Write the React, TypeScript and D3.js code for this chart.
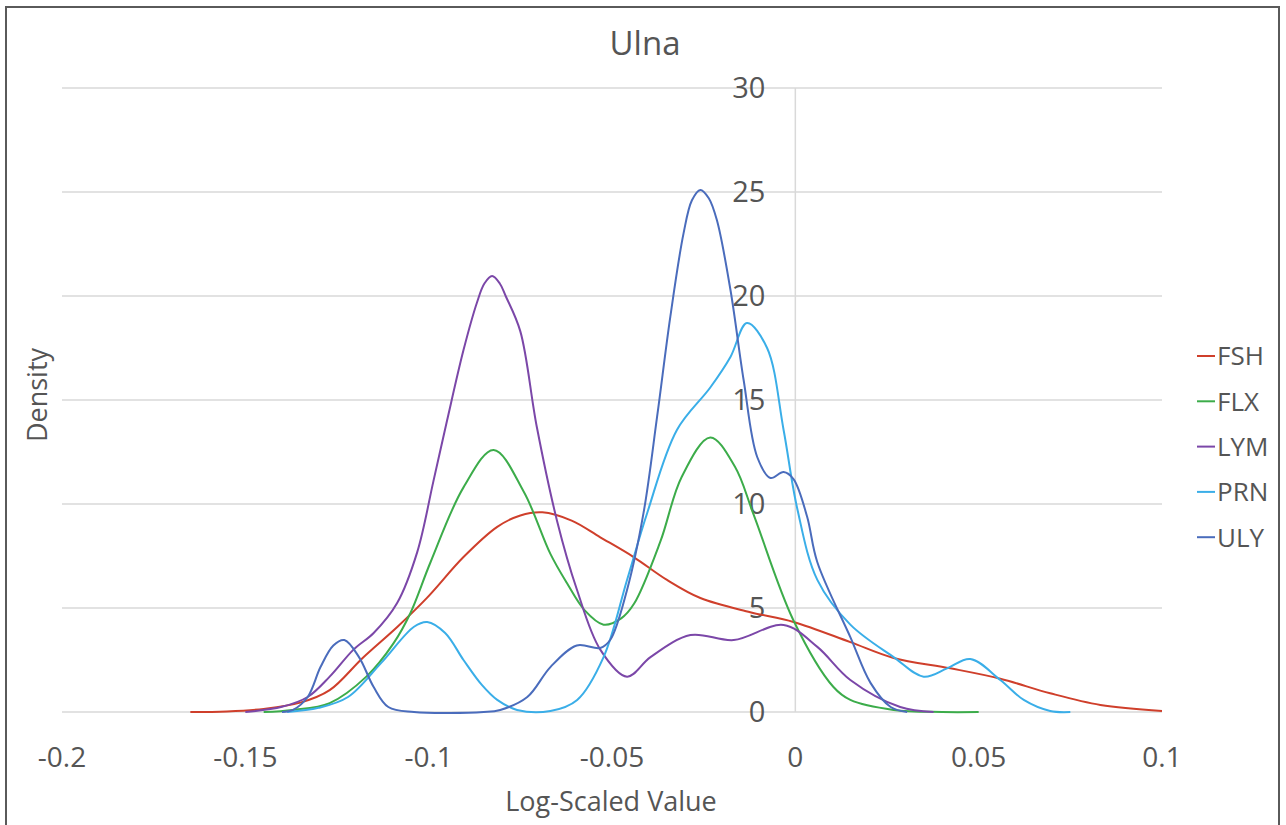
import React from 'react';
import * as d3 from 'd3';

const seriesNames = ['FSH', 'FLX', 'LYM', 'PRN', 'ULY'];
const seriesColors = ['#cf3f2b', '#3cac4a', '#7b47a8', '#3aaee8', '#4a6cbc'];

const xTicks = [-0.2, -0.15, -0.1, -0.05, 0, 0.05, 0.1];
const yTicks = [0, 5, 10, 15, 20, 25, 30];

// density estimates: [log-scaled value, density]
const fsh: [number, number][] = [
  [-0.165, 0], [-0.155, 0.03], [-0.145, 0.15], [-0.135, 0.45], [-0.127, 1.05],
  [-0.118, 2.6], [-0.1085, 4.1], [-0.1004, 5.5], [-0.0905, 7.45], [-0.0813, 8.9],
  [-0.075, 9.45], [-0.069, 9.6], [-0.061, 9.2], [-0.0532, 8.4], [-0.0441, 7.45],
  [-0.035, 6.35], [-0.0259, 5.48], [-0.0123, 4.8], [-0.0005, 4.33], [0.015, 3.36],
  [0.0268, 2.6], [0.0423, 2.1], [0.0559, 1.6], [0.0695, 0.9], [0.0832, 0.34], [0.1, 0.05],
];

const flx: [number, number][] = [
  [-0.145, 0], [-0.137, 0.1], [-0.127, 0.43], [-0.117, 1.7], [-0.1096, 3.3],
  [-0.105, 4.75], [-0.0995, 7.2], [-0.0905, 10.8], [-0.0823, 12.6], [-0.0741, 10.6],
  [-0.0668, 7.6], [-0.0623, 6.2], [-0.0575, 4.9], [-0.0523, 4.2], [-0.0475, 4.5],
  [-0.044, 5.2], [-0.0368, 8.2], [-0.031, 11.3], [-0.0232, 13.2], [-0.0165, 11.8],
  [-0.0114, 9.5], [-0.0005, 4.4], [0.0104, 1.2], [0.015, 0.58], [0.0268, 0.1],
  [0.04, 0], [0.05, 0],
];

const lym: [number, number][] = [
  [-0.15, 0], [-0.14, 0.25], [-0.133, 0.72], [-0.127, 1.7], [-0.1205, 3.0],
  [-0.115, 3.8], [-0.1086, 5.24], [-0.1031, 7.7], [-0.0987, 11.1], [-0.095, 14.0],
  [-0.0905, 17.4], [-0.0868, 19.7], [-0.0848, 20.6], [-0.0827, 20.96], [-0.0806, 20.6],
  [-0.079, 20.0], [-0.075, 18.3], [-0.0705, 13.7], [-0.065, 9.2], [-0.0596, 5.9],
  [-0.0532, 3.0], [-0.0459, 1.7], [-0.0395, 2.64], [-0.0286, 3.7], [-0.0168, 3.46],
  [-0.0032, 4.18], [0.006, 3.13], [0.015, 1.54], [0.0286, 0.24], [0.0377, 0],
];

const prn: [number, number][] = [
  [-0.1386, 0], [-0.13, 0.2], [-0.122, 0.72], [-0.113, 2.35], [-0.104, 4.1],
  [-0.1004, 4.33], [-0.0955, 3.8], [-0.0905, 2.5], [-0.0855, 1.3], [-0.0813, 0.58],
  [-0.0759, 0.1], [-0.0668, 0.05], [-0.0595, 0.58], [-0.0523, 2.64], [-0.0459, 6.35],
  [-0.0404, 9.57], [-0.0323, 13.56], [-0.0232, 15.6], [-0.0177, 17.07], [-0.0132, 18.7],
  [-0.0077, 17.5], [-0.0032, 13.56], [0.0005, 9.8], [0.006, 6.35], [0.015, 4.2],
  [0.0268, 2.64], [0.035, 1.7], [0.0414, 2.1], [0.0477, 2.55], [0.0559, 1.54],
  [0.0623, 0.58], [0.0695, 0.05], [0.075, 0],
];

const uly: [number, number][] = [
  [-0.14, 0], [-0.137, 0.1], [-0.133, 0.72], [-0.1295, 2.16], [-0.126, 3.2],
  [-0.123, 3.46], [-0.119, 2.64], [-0.115, 1.2], [-0.111, 0.24], [-0.104, 0],
  [-0.085, 0], [-0.0805, 0.1], [-0.0731, 0.72], [-0.0668, 2.16], [-0.0596, 3.2],
  [-0.0532, 3.08], [-0.0505, 3.46], [-0.0459, 5.87], [-0.0414, 9.57], [-0.0377, 14.2],
  [-0.0341, 19.0], [-0.0305, 23.0], [-0.0282, 24.6], [-0.0259, 25.1], [-0.0236, 24.7],
  [-0.0214, 23.65], [-0.0177, 20.3], [-0.0141, 15.96], [-0.0104, 12.26], [-0.0068, 11.25],
  [-0.0032, 11.54], [-0.0005, 11.2], [0.0032, 9.4], [0.006, 7.2], [0.015, 3.6],
  [0.0205, 1.4], [0.026, 0.24], [0.0305, 0],
];

const seriesData = [fsh, flx, lym, prn, uly];

const W = 1286;
const H = 825;
const FONT = "'Open Sans', sans-serif";
const TEXT = '#555555';
const GRID = '#d9d9d9';

export default function App() {
  const x = d3.scaleLinear().domain([-0.2, 0.1]).range([62, 1162]);
  const y = d3.scaleLinear().domain([0, 30]).range([712, 88]);

  const line = d3.line<[number, number]>()
    .x(d => x(d[0]))
    .y(d => Math.min(y(0), y(d[1])))
    .curve(d3.curveCatmullRom.alpha(0.5));

  const x0 = x(0);

  return (
    <svg width={W} height={H} style={{ position: 'absolute', left: 0, top: 0, background: '#fff' }}>
      <rect x={0} y={0} width={W} height={H} fill="#fff" />
      <rect x={6} y={7} width={1273} height={840} fill="none" stroke="#5a5a5a" strokeWidth={2} />

      <text x={645} y={55} textAnchor="middle" fontFamily={FONT} fontSize={33} fill={TEXT}>Ulna</text>

      {/* gridlines */}
      {yTicks.map(t => (
        <line key={'g' + t} x1={x(-0.2)} x2={x(0.1)} y1={y(t)} y2={y(t)} stroke={GRID} strokeWidth={1.5} />
      ))}
      <line x1={x0} x2={x0} y1={y(30)} y2={y(0)} stroke={GRID} strokeWidth={1.5} />

      {/* y tick labels beside the zero line */}
      {yTicks.map(t => (
        <text key={'y' + t} x={x0 - 30} y={y(t)} dy="0.36em" textAnchor="end"
          fontFamily={FONT} fontSize={29} fill={TEXT}>{t}</text>
      ))}

      {/* x tick labels */}
      {xTicks.map(t => (
        <text key={'x' + t} x={x(t)} y={767} textAnchor="middle"
          fontFamily={FONT} fontSize={28} fill={TEXT}>{String(t)}</text>
      ))}

      <text x={611} y={811} textAnchor="middle" fontFamily={FONT} fontSize={27} fill={TEXT}>Log-Scaled Value</text>
      <text transform="translate(47,395) rotate(-90)" textAnchor="middle" fontFamily={FONT} fontSize={27} fill={TEXT}>Density</text>

      {/* series */}
      {seriesData.map((d, i) => (
        <path key={seriesNames[i]} d={line(d) || ''} fill="none" stroke={seriesColors[i]}
          strokeWidth={2} strokeLinejoin="round" />
      ))}

      {/* legend */}
      {seriesNames.map((n, i) => {
        const cy = 356 + i * 45.3;
        return (
          <g key={'l' + n}>
            <line x1={1197} x2={1215} y1={cy} y2={cy} stroke={seriesColors[i]} strokeWidth={2} />
            <text x={1217} y={cy} dy="0.36em" fontFamily={FONT} fontSize={26} fill={TEXT}>{n}</text>
          </g>
        );
      })}
    </svg>
  );
}
